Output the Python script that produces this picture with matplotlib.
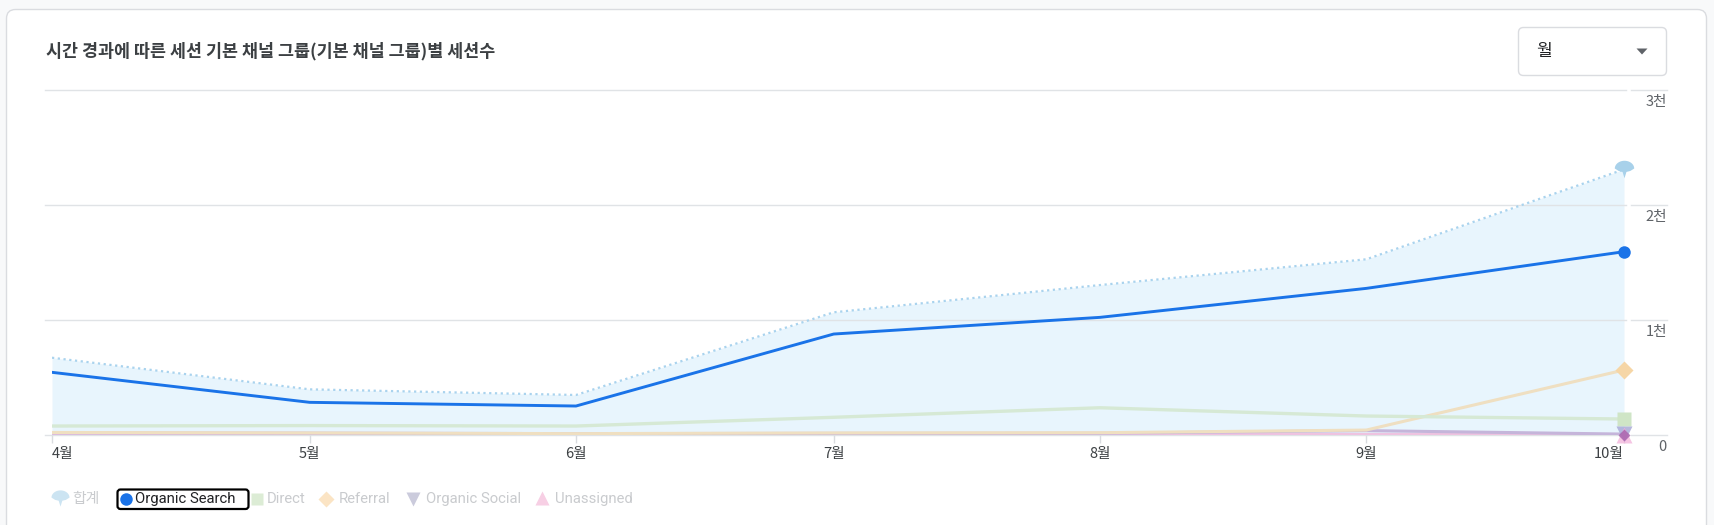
import matplotlib
matplotlib.use('Agg')
import matplotlib.pyplot as plt
import matplotlib.dates as mdates
import matplotlib.transforms as mtransforms
from matplotlib.patches import FancyBboxPatch, Polygon
from matplotlib.path import Path
import numpy as np
import datetime as dt

plt.rcParams['font.family'] = ['Noto Sans CJK KR', 'DejaVu Sans']

# ---------------- data ----------------
title = '시간 경과에 따른 세션 기본 채널 그룹(기본 채널 그룹)별 세션수'
months = ['4월', '5월', '6월', '7월', '8월', '9월', '10월']
month_dates = [dt.date(2023, m, 1) for m in range(4, 11)]
total = [672, 397, 348, 1067, 1304, 1528, 2310]
organic_search = [545, 284, 252, 878, 1023, 1275, 1594]
direct = [78, 82, 78, 154, 237, 165, 139]
referral = [22, 18, 12, 18, 20, 43, 565]
organic_social = [18, 16, 12, 14, 15, 38, 8]
unassigned = [6, 5, 4, 5, 5, 5, 4]
y_ticks = [0, 1000, 2000, 3000]
y_tick_labels = ['0', '1천', '2천', '3천']
legend_labels = ['합계', 'Organic Search', 'Direct', 'Referral', 'Organic Social', 'Unassigned']
dropdown_label = '월'

# ---------------- figure ----------------
W, H = 1715, 525
fig = plt.figure(figsize=(W / 100, H / 100), dpi=100)
fig.patch.set_facecolor('#f8f9fa')

bg = fig.add_axes([0, 0, 1, 1], zorder=0)
bg.set_xlim(0, W)
bg.set_ylim(H, 0)
bg.axis('off')

card = FancyBboxPatch((6.5, 9.5), 1700, 560, boxstyle='round,pad=0,rounding_size=9',
                      fc='white', ec='#dadce0', lw=1)
bg.add_patch(card)

bg.text(46, 51, title, fontsize=12.5, color='#3c4043', va='center', ha='left',
        weight='bold')

# dropdown
dd = FancyBboxPatch((1518.5, 27.5), 148, 48, boxstyle='round,pad=0,rounding_size=5',
                    fc='white', ec='#dadce0', lw=1)
bg.add_patch(dd)
bg.text(1536, 51, dropdown_label, fontsize=12.3, color='#202124', va='center', ha='left')
bg.add_patch(Polygon([(1636.5, 48.5), (1647.5, 48.5), (1642, 54.5)], closed=True,
                     fc='#5f6368', ec='none'))

# balloon marker for total
theta = np.linspace(0, np.pi, 20)
verts = [(np.cos(t), np.sin(t) * 0.8 + 0.1) for t in theta]
verts += [(-0.6, -0.15), (-0.2, -0.25), (0, -0.9), (0.2, -0.25), (0.6, -0.15), (1, 0.1)]
balloon = Path(verts + [verts[0]], [Path.MOVETO] + [Path.LINETO] * (len(verts) - 1) + [Path.CLOSEPOLY])

# ---------------- chart axes ----------------
x0_px, x1_px, y0_px, y1_px = 52, 1624, 435, 90
ax = fig.add_axes([x0_px / W, (H - y0_px) / H, (x1_px - x0_px) / W, (y0_px - y1_px) / H], zorder=1)
ax.set_facecolor('none')
x = mdates.date2num(month_dates)
ax.set_xlim(x[0], x[-1])
ax.set_ylim(0, 3000)
for s in ax.spines.values():
    s.set_visible(False)
ax.set_yticks([])
ax.set_xticks(x)
ax.tick_params(axis='x', length=6, width=1, color='#dadce0', labelbottom=False)

ax.fill_between(x, total, 0, color='#e8f5fd', lw=0, zorder=1)

ytr = ax.get_yaxis_transform()
span = x1_px - x0_px
gl_a = (45 - x0_px) / span
gl_b = (1626 - x0_px) / span
gl_c = (1631 - x0_px) / span
gl_d = (1667 - x0_px) / span
for v in y_ticks:
    ax.plot([gl_a, gl_b], [v, v], transform=ytr, color='#e0e3e6', lw=1, clip_on=False, zorder=1.5)
    ax.plot([gl_c, gl_d], [v, v], transform=ytr, color='#e0e3e6', lw=1, clip_on=False, zorder=1.5)

lbl_tr = mtransforms.offset_copy(ytr, fig=fig, x=0, y=-12, units='dots')
for v, lab in zip(y_ticks, y_tick_labels):
    ax.text(gl_d, v, lab, transform=lbl_tr, ha='right', va='center', fontsize=10.5,
            color='#5f6368')

xtr = mtransforms.offset_copy(ax.get_xaxis_transform(), fig=fig, x=0, y=-19, units='dots')
for i, (xv, lab) in enumerate(zip(x, months)):
    ha = 'left' if i == 0 else ('right' if i == len(x) - 1 else 'center')
    ax.text(xv, 0, lab, transform=xtr, ha=ha, va='center', fontsize=10.5, color='#3c4043')

# series lines
ax.plot(x, unassigned, color='#eec3e0', lw=2.2, zorder=2, solid_capstyle='round')
ax.plot(x, organic_social, color='#c5b5da', lw=2.2, zorder=2.1, solid_capstyle='round')
ax.plot(x, referral, color='#efdfc1', lw=2.2, zorder=2.2, solid_capstyle='round')
ax.plot(x, direct, color='#d6e9d5', lw=2.4, zorder=2.3, solid_capstyle='round')
ax.plot(x, total, color='#a9d3ee', lw=1.6, linestyle=(0, (1, 1.6)), zorder=2.4)
ax.plot(x, organic_search, color='#1a73e8', lw=2.1, zorder=3, solid_joinstyle='round')

# end markers
ax.plot(x[-1], total[-1], marker=balloon, ms=14, color='#a8d1ea', mec='none', zorder=4, clip_on=False)
ax.plot(x[-1], organic_search[-1], marker='o', ms=9, color='#1a73e8', mec='none', zorder=5, clip_on=False)
ax.plot(x[-1], referral[-1], marker='D', ms=9, color='#f6d6a6', mec='none', zorder=4, clip_on=False)
ax.plot(x[-1], direct[-1], marker='s', ms=9.5, color='#cfe5c6', mec='none', zorder=4, clip_on=False)
ax.plot(x[-1], organic_social[-1], marker='v', ms=12, color='#a9abd8', mec='none', alpha=0.85, zorder=4, clip_on=False)
ax.plot(x[-1], unassigned[-1], marker='^', ms=12, color='#f2b2da', mec='none', alpha=0.75, zorder=4.1, clip_on=False)
ax.plot(x[-1], unassigned[-1], marker='D', ms=6, color='#a45fab', mec='none', alpha=0.8, zorder=4.2, clip_on=False)

# ---------------- legend ----------------
ly = 499
grey_txt = '#c9cbce'
lfont = ['Roboto', 'Noto Sans CJK KR', 'DejaVu Sans']
lfs = 10.7
bg.plot(60, ly - 1, marker=balloon, ms=13, color='#cce4f2', mec='none')
bg.text(72, ly, legend_labels[0], fontsize=lfs, color=grey_txt, va='center', ha='left')

box = FancyBboxPatch((117.5, 489.5), 131, 19.5, boxstyle='round,pad=0,rounding_size=3',
                     fc='white', ec='#000000', lw=1.6)
bg.add_patch(box)
bg.plot(126.5, ly, marker='o', ms=9, color='#1a73e8', mec='none')
bg.text(135, ly, legend_labels[1], fontsize=lfs, color='#202124', va='center', ha='left', family=lfont)

bg.plot(257, ly, marker='s', ms=9, color='#dcecd5', mec='none')
bg.text(267, ly, legend_labels[2], fontsize=lfs, color=grey_txt, va='center', ha='left', family=lfont)
bg.plot(326, ly, marker='D', ms=8.5, color='#fbe4c4', mec='none')
bg.text(339, ly, legend_labels[3], fontsize=lfs, color=grey_txt, va='center', ha='left', family=lfont)
bg.plot(413, ly, marker='v', ms=10, color='#cbcbdc', mec='none')
bg.text(426, ly, legend_labels[4], fontsize=lfs, color=grey_txt, va='center', ha='left', family=lfont)
bg.plot(542, ly - 1, marker='^', ms=10, color='#f7cfe4', mec='none')
bg.text(555, ly, legend_labels[5], fontsize=lfs, color=grey_txt, va='center', ha='left', family=lfont)

fig.savefig('out.png', dpi=100, facecolor=fig.get_facecolor())
